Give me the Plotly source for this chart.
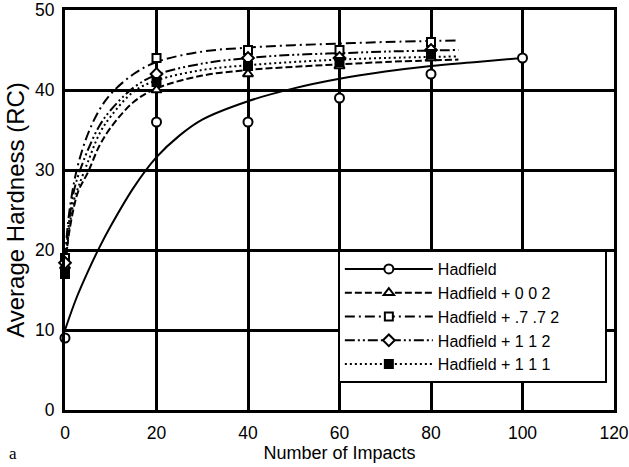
import plotly.graph_objects as go

# ---- measured data points (markers) ----
x_had = [0, 20, 40, 60, 80, 100]
y_had = [9, 36, 36, 39, 42, 44]

x_pts = [0, 20, 40, 60, 80]
y_002 = [18, 40, 42, 43, 44]
y_772 = [19, 44, 45, 45, 46]
y_112 = [18.4, 42, 44, 44, 45]
y_111 = [17, 41, 43, 43.5, 44.5]

# ---- fitted curves ----
x_fit_had = [0, 2.5, 5, 7.5, 10, 15, 20, 25, 30, 40, 50, 60, 70, 80, 90, 100]
y_fit_had = [10, 14, 17.3, 20.3, 23, 27.8, 31.6, 34.3, 36.3, 38.6, 40.2, 41.4, 42.3, 43.0, 43.5, 44.0]

x_fit = [0, 0.5, 1, 2, 3, 5, 7.5, 10, 15, 20, 30, 40, 50, 60, 70, 86]
y_fit_772 = [19, 22.5, 25, 28.5, 31, 34.5, 37.5, 39.5, 42, 43.5, 44.8, 45.3, 45.6, 45.8, 46.0, 46.2]
y_fit_112 = [18.4, 21.5, 24, 27.5, 29.5, 32.5, 35.5, 37.5, 40.3, 41.9, 43.3, 44.0, 44.4, 44.6, 44.8, 45.0]
y_fit_111 = [17, 20.5, 23, 26.3, 28, 31, 34.5, 36.7, 39.8, 41.2, 42.5, 43.1, 43.5, 43.8, 44.0, 44.2]
y_fit_002 = [18, 20.5, 22.5, 25.5, 27.5, 29.7, 33, 35.3, 38.5, 40.2, 41.8, 42.5, 42.9, 43.2, 43.5, 43.8]

names = ["Hadfield", "Hadfield + 0 0 2", "Hadfield + .7 .7 2", "Hadfield + 1 1 2", "Hadfield + 1 1 1"]
symbols = ["circle", "triangle-up", "square", "diamond", "square"]
fills = ["white", "white", "white", "white", "black"]
dashes = ["solid", "7px,3px", "10px,4px,2px,4px", "10px,3px,2px,3px,2px,3px", "2px,3px"]

series = [
    (x_fit_had, y_fit_had, x_had, y_had),
    (x_fit, y_fit_002, x_pts, y_002),
    (x_fit, y_fit_772, x_pts, y_772),
    (x_fit, y_fit_112, x_pts, y_112),
    (x_fit, y_fit_111, x_pts, y_111),
]

PAD = "\u00a0" * 9

fig = go.Figure()
for i, (xf, yf, xp, yp) in enumerate(series):
    fig.add_trace(go.Scatter(x=xf, y=yf, mode="lines", line=dict(color="black", width=2, dash=dashes[i], shape="spline"),
                             showlegend=False, legendgroup=names[i], hoverinfo="skip"))
for i, (xf, yf, xp, yp) in enumerate(series):
    mk = dict(symbol=symbols[i], size=9 if symbols[i] != "square" else 8, color=fills[i], line=dict(color="black", width=2))
    fig.add_trace(go.Scatter(x=xp, y=yp, mode="markers", marker=mk, showlegend=False, legendgroup=names[i], cliponaxis=False))
    fig.add_trace(go.Scatter(x=[None], y=[None], mode="lines+markers", name=names[i] + PAD, legendgroup=names[i],
                             line=dict(color="black", width=2, dash=dashes[i]), marker=mk))

font_fam = "Arial, Liberation Sans, sans-serif"
fig.update_layout(
    width=629, height=467,
    margin=dict(l=65, r=15, t=10, b=57, autoexpand=False),
    paper_bgcolor="white", plot_bgcolor="white",
    font=dict(family=font_fam, size=18, color="black"),
    legend=dict(x=0.497, y=0.40, xanchor="left", yanchor="top", bgcolor="white",
                bordercolor="black", borderwidth=2, itemwidth=88, font=dict(size=16), tracegroupgap=0),
    xaxis=dict(range=[0, 120], dtick=20, tick0=0, showgrid=True, gridcolor="black", gridwidth=2.5,
               showline=True, linecolor="black", linewidth=3, mirror=True, zeroline=False, ticks="",
               automargin=False,
               ticklabelstandoff=5, ticklabeloverflow="allow", tickfont=dict(size=17.5),
               title=dict(text="Number of Impacts", font=dict(size=18), standoff=4)),
    yaxis=dict(range=[0, 50], dtick=10, tick0=0, showgrid=True, gridcolor="black", gridwidth=2.5,
               showline=True, linecolor="black", linewidth=3, mirror=True, zeroline=False, ticks="",
               automargin=False,
               ticklabelstandoff=4, tickfont=dict(size=17.5),
               title=dict(text="Average Hardness (RC)", font=dict(size=24), standoff=4)),
    annotations=[dict(text="a", x=-0.105, y=-0.108, xref="paper", yref="paper", showarrow=False,
                      font=dict(family="Liberation Serif, Times New Roman, serif", size=17), xanchor="left", yanchor="middle")],
)
fig.write_html("out.html")
